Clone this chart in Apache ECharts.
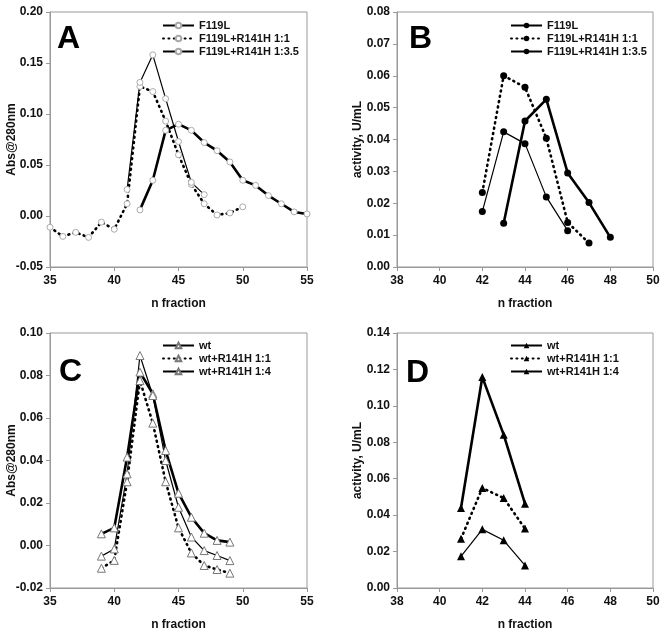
<!DOCTYPE html>
<html>
<head>
<meta charset="utf-8">
<script src="https://cdn.jsdelivr.net/npm/echarts@6/dist/echarts.min.js"></script>
<style>
html, body { margin: 0; padding: 0; background: #fff; }
.panel { position: absolute; width: 333px; height: 319px; }
</style>
</head>
<body>
<div id="chart-a" class="panel" style="left:0;top:0"></div>
<div id="chart-b" class="panel" style="left:333px;top:0"></div>
<div id="chart-c" class="panel" style="left:0;top:319px"></div>
<div id="chart-d" class="panel" style="left:333px;top:319px"></div>
<script>
// panel A - Abs@280nm, F119L
const aNames = ['F119L', 'F119L+R141H 1:1', 'F119L+R141H 1:3.5'];
const aX1 = [42, 43, 44, 45, 46, 47, 48, 49, 50, 51, 52, 53, 54, 55];
const aY1 = [0.006, 0.035, 0.084, 0.090, 0.084, 0.072, 0.064, 0.053, 0.035, 0.030, 0.020, 0.012, 0.004, 0.002];
const aX2 = [35, 36, 37, 38, 39, 40, 41, 42, 43, 44, 45, 46, 47, 48, 49, 50];
const aY2 = [-0.011, -0.020, -0.016, -0.021, -0.006, -0.013, 0.012, 0.127, 0.122, 0.093, 0.060, 0.031, 0.012, 0.001, 0.003, 0.009];
const aX3 = [41, 42, 43, 44, 45, 46, 47];
const aY3 = [0.026, 0.131, 0.158, 0.115, 0.073, 0.033, 0.021];

// panel B - activity, F119L
const bNames = ['F119L', 'F119L+R141H 1:1', 'F119L+R141H 1:3.5'];
const bX1 = [43, 44, 45, 46, 47, 48];
const bY1 = [0.0137, 0.0458, 0.0526, 0.0295, 0.0202, 0.0093];
const bX2 = [42, 43, 44, 45, 46, 47];
const bY2 = [0.0234, 0.0600, 0.0564, 0.0404, 0.0140, 0.0075];
const bX3 = [42, 43, 44, 45, 46];
const bY3 = [0.0174, 0.0424, 0.0387, 0.0220, 0.0114];

// panel C - Abs@280nm, wt
const cNames = ['wt', 'wt+R141H 1:1', 'wt+R141H 1:4'];
const cX = [39, 40, 41, 42, 43, 44, 45, 46, 47, 48, 49];
const cY1 = [0.0055, 0.0083, 0.0416, 0.0816, 0.0714, 0.0447, 0.0246, 0.0133, 0.0058, 0.0024, 0.0016];
const cY2 = [-0.0107, -0.0070, 0.0300, 0.0776, 0.0576, 0.0300, 0.0083, -0.0035, -0.0094, -0.0113, -0.0130];
const cY3 = [-0.0050, -0.0016, 0.0337, 0.0894, 0.0706, 0.0400, 0.0180, 0.0040, -0.0024, -0.0047, -0.0071];

// panel D - activity, wt
const dNames = ['wt', 'wt+R141H 1:1', 'wt+R141H 1:4'];
const dX = [41, 42, 43, 44];
const dY1 = [0.0439, 0.1158, 0.0842, 0.0463];
const dY2 = [0.0271, 0.0549, 0.0494, 0.0326];
const dY3 = [0.0174, 0.0322, 0.0262, 0.0124];

const FONT = '"Liberation Sans", Arial, sans-serif';
const AXIS_COLOR = '#999';

function pairs(xs, ys) {
    return xs.map((x, i) => [x, ys[i]]);
}

// the three line looks used in every panel: thick, dotted, thin
function lineSeries(name, data, kind, marker) {
    let lineStyle;
    if (kind === 'thick') {
        lineStyle = { color: '#000', width: 2.6 };
    } else if (kind === 'dotted') {
        lineStyle = { color: '#000', width: 2.6, type: [1, 4.4], cap: 'round' };
    } else {
        lineStyle = { color: '#000', width: 1.2 };
    }
    return {
        type: 'line',
        name: name,
        data: data,
        symbol: marker.symbol,
        symbolSize: marker.size,
        showAllSymbol: true,
        lineStyle: lineStyle,
        itemStyle: marker.itemStyle,
        emphasis: { disabled: true }
    };
}

function buildOption(p) {
    return {
        animation: false,
        grid: {
            left: p.gridLeft, top: p.gridTop, width: p.gridWidth, height: 255,
            outerBoundsMode: 'none', containLabel: false,
            show: true, borderColor: AXIS_COLOR, borderWidth: 1
        },
        xAxis: {
            type: 'value', min: p.xMin, max: p.xMax, interval: p.xStep,
            name: 'n fraction', nameLocation: 'middle', nameGap: 31, nameMoveOverlap: false,
            nameTextStyle: { fontFamily: FONT, fontWeight: 'bold', fontSize: 12, color: '#111' },
            axisLine: { show: true, onZero: false, lineStyle: { color: AXIS_COLOR } },
            axisTick: { show: true, inside: false, length: 4, lineStyle: { color: AXIS_COLOR } },
            axisLabel: { margin: 8, fontFamily: FONT, fontWeight: 'bold', fontSize: 12, color: '#111' },
            splitLine: { show: false }
        },
        yAxis: {
            type: 'value', min: p.yMin, max: p.yMax, interval: p.yStep,
            name: p.yName, nameLocation: 'middle', nameGap: p.yNameGap, nameMoveOverlap: false,
            nameTextStyle: { fontFamily: FONT, fontWeight: 'bold', fontSize: 12, color: '#111' },
            axisLine: { show: true, onZero: false, lineStyle: { color: AXIS_COLOR } },
            axisTick: { show: true, inside: false, length: 4, lineStyle: { color: AXIS_COLOR } },
            axisLabel: {
                margin: 7, fontFamily: FONT, fontWeight: 'bold', fontSize: 12, color: '#111',
                formatter: (v) => v.toFixed(2)
            },
            splitLine: { show: false }
        },
        legend: {
            orient: 'vertical', left: p.legendLeft, top: p.legendTop, padding: 0,
            itemWidth: 31, itemHeight: 7, itemGap: 0,
            selectedMode: false,
            textStyle: { fontFamily: FONT, fontWeight: 'bold', fontSize: 11, color: '#111', lineHeight: 13 },
            data: p.series.map(s => s.name)
        },
        graphic: [{
            type: 'text', left: p.letterX, top: p.letterY,
            style: { text: p.letter, font: 'bold 32px ' + FONT, fill: '#000' }
        }],
        series: p.series
    };
}

function initChart(id, options) {
    const chart = echarts.init(document.getElementById(id), null, { renderer: 'canvas' });
    chart.setOption(options);
    return chart;
}

const greyCircle = { symbol: 'circle', size: 6, itemStyle: { color: '#fff', borderColor: '#aaa', borderWidth: 1 } };
const blackDot = { symbol: 'circle', size: 7, itemStyle: { color: '#000' } };
const openTri = { symbol: 'triangle', size: 8, itemStyle: { color: '#fff', borderColor: '#777', borderWidth: 1 } };
const blackTri = { symbol: 'triangle', size: 8, itemStyle: { color: '#000' } };

initChart('chart-a', buildOption({
    gridLeft: 50, gridTop: 12, gridWidth: 257,
    xMin: 35, xMax: 55, xStep: 5, yMin: -0.05, yMax: 0.20, yStep: 0.05,
    yName: 'Abs@280nm', yNameGap: 32,
    legendLeft: 162, legendTop: 19,
    letter: 'A', letterX: 57, letterY: 23,
    series: [
        lineSeries(aNames[0], pairs(aX1, aY1), 'thick', greyCircle),
        lineSeries(aNames[1], pairs(aX2, aY2), 'dotted', greyCircle),
        lineSeries(aNames[2], pairs(aX3, aY3), 'thin', greyCircle)
    ]
}));

initChart('chart-b', buildOption({
    gridLeft: 64, gridTop: 12, gridWidth: 256,
    xMin: 38, xMax: 50, xStep: 2, yMin: 0, yMax: 0.08, yStep: 0.01,
    yName: 'activity, U/mL', yNameGap: 33,
    legendLeft: 177, legendTop: 19,
    letter: 'B', letterX: 76, letterY: 23,
    series: [
        lineSeries(bNames[0], pairs(bX1, bY1), 'thick', blackDot),
        lineSeries(bNames[1], pairs(bX2, bY2), 'dotted', blackDot),
        lineSeries(bNames[2], pairs(bX3, bY3), 'thin', blackDot)
    ]
}));

initChart('chart-c', buildOption({
    gridLeft: 50, gridTop: 14, gridWidth: 257,
    xMin: 35, xMax: 55, xStep: 5, yMin: -0.02, yMax: 0.10, yStep: 0.02,
    yName: 'Abs@280nm', yNameGap: 32,
    legendLeft: 162, legendTop: 20,
    letter: 'C', letterX: 59, letterY: 37,
    series: [
        lineSeries(cNames[0], pairs(cX, cY1), 'thick', openTri),
        lineSeries(cNames[1], pairs(cX, cY2), 'dotted', openTri),
        lineSeries(cNames[2], pairs(cX, cY3), 'thin', openTri)
    ]
}));

initChart('chart-d', buildOption({
    gridLeft: 64, gridTop: 14, gridWidth: 256,
    xMin: 38, xMax: 50, xStep: 2, yMin: 0, yMax: 0.14, yStep: 0.02,
    yName: 'activity, U/mL', yNameGap: 33,
    legendLeft: 177, legendTop: 20,
    letter: 'D', letterX: 73, letterY: 38,
    series: [
        lineSeries(dNames[0], pairs(dX, dY1), 'thick', blackTri),
        lineSeries(dNames[1], pairs(dX, dY2), 'dotted', blackTri),
        lineSeries(dNames[2], pairs(dX, dY3), 'thin', blackTri)
    ]
}));
</script>
</body>
</html>
